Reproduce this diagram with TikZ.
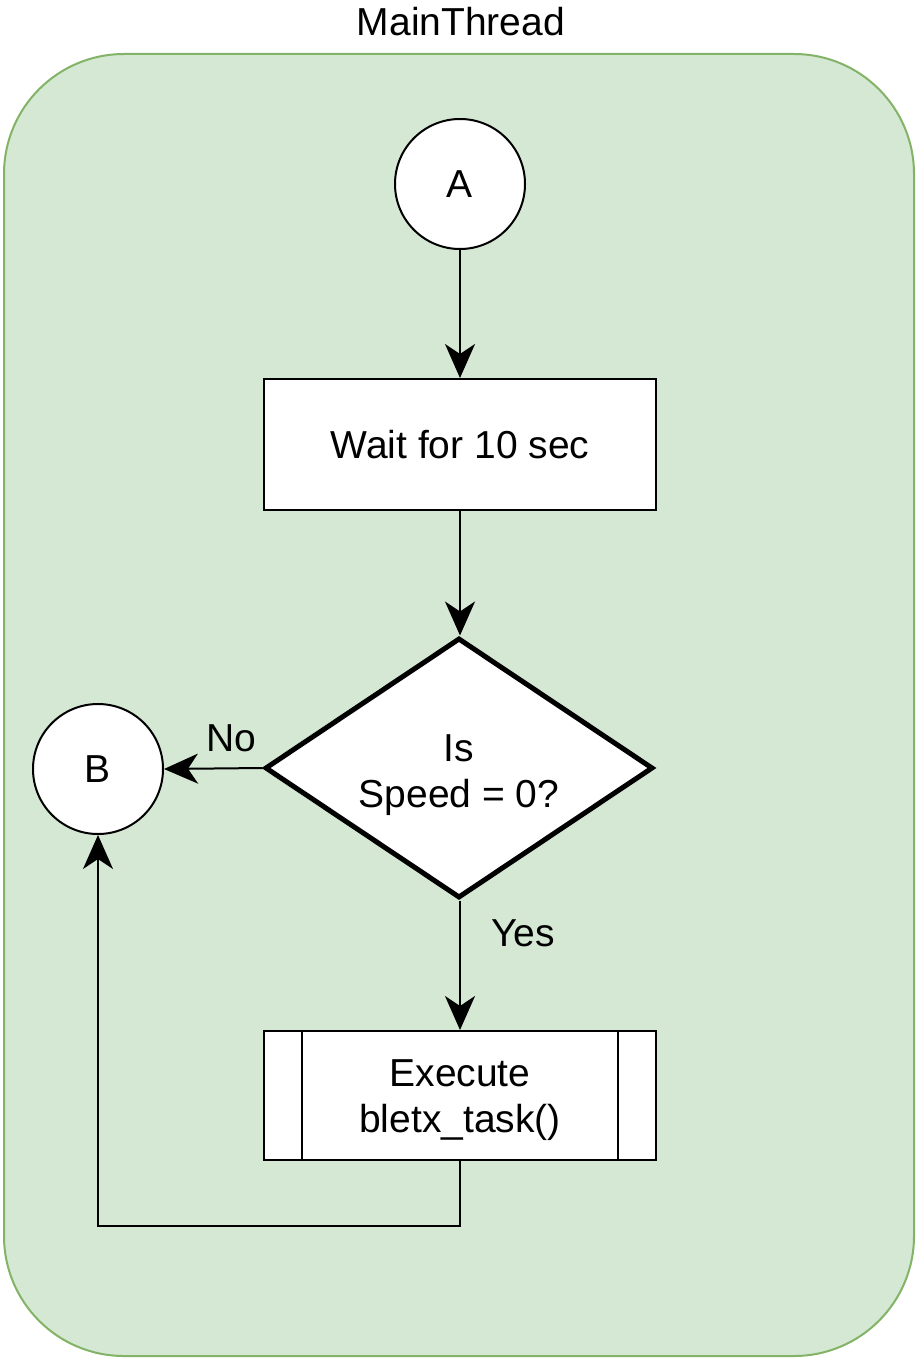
\documentclass[tikz,border=0pt]{standalone}
\usepackage{fontspec}
\setmainfont{Liberation Sans}
\usetikzlibrary{shapes.geometric,arrows.meta}
\definecolor{grfill}{HTML}{D5E8D4}
\definecolor{grline}{HTML}{82B366}
\tikzset{
  lbl/.style={font=\fontsize{39}{46}\selectfont, align=center, inner sep=0pt},
  box/.style={draw=black, fill=white, line width=2pt, lbl},
  arrowhd/.tip={Stealth[length=34pt,width=30pt,inset=10pt]},
  conn/.style={draw=black, line width=2pt, -arrowhd},
  plain/.style={draw=black, line width=2pt}
}
\begin{document}
\begin{tikzpicture}[x=1pt,y=-1pt]
\useasboundingbox (0,0) rectangle (917,1359);
\node[draw=grline, fill=grfill, line width=2pt, rounded corners=120pt, minimum width=910pt, minimum height=1302pt, inner sep=0pt] (cont) at (459,705) {};
\node[lbl] (title) at (461,22) {MainThread};
\node[box, circle, minimum size=130pt] (A) at (460,184) {A};
\node[box, rectangle, minimum width=392pt, minimum height=131pt] (wait) at (460,444.5) {Wait for 10 sec};
\node[box, diamond, line width=5pt, minimum width=388pt, minimum height=260pt] (dec) at (459,768) {};
\node[lbl] (dectext) at (459,775) {Is\\Speed = 0?};
\node[box, circle, minimum size=130pt] (B) at (98,769) {B};
\node[box, rectangle, minimum width=392pt, minimum height=129pt] (proc) at (460,1095.5) {};
\node[lbl] (proctext) at (460,1100) {Execute\\bletx\_task()};
\draw[plain] ([xshift=39pt]proc.north west) -- ([xshift=39pt]proc.south west);
\draw[plain] ([xshift=-39pt]proc.north east) -- ([xshift=-39pt]proc.south east);
\coordinate (turn) at (460,1226);
\draw[conn] (A) -- (wait);
\draw[conn] (wait.south) -- (wait.south |- dec.north);
\draw[conn] (dec.west) -- (B.east);
\draw[conn] (dec.south -| proc.north) -- (proc.north);
\draw[conn] (proc.south) -- (turn) -| (B.south);
\node[lbl] (no) at (231,738) {No};
\node[lbl] (yes) at (523,933) {Yes};
\end{tikzpicture}
\end{document}
